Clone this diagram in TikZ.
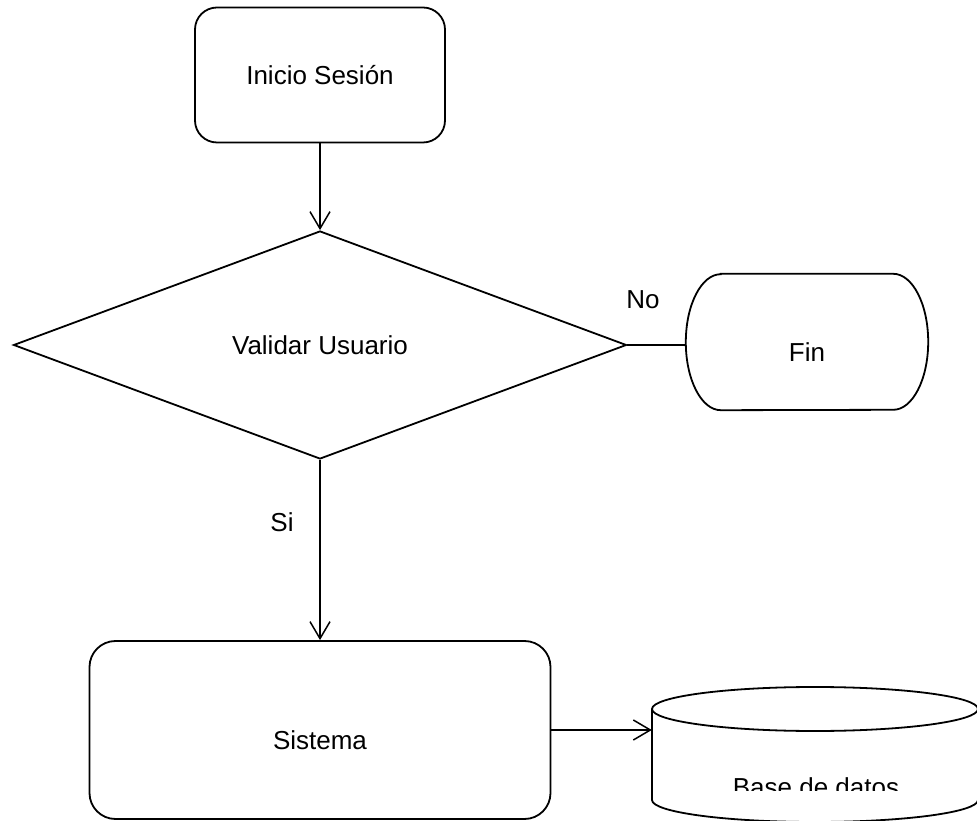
\documentclass[tikz,border=0pt]{standalone}
\usepackage{fontspec}
\setmainfont{Liberation Sans}
\usetikzlibrary{shapes.geometric,arrows.meta}
\tikzset{
  x=1pt,y=1pt,
  linea/.style={line width=1.8pt,black},
  flecha/.style={linea,-{Straight Barb[length=17pt,width=20pt,line width=1.5pt]}},
  proceso/.style={draw,linea,rectangle,inner sep=0pt},
  decision/.style={draw,linea,diamond,inner sep=0pt,minimum width=613pt,minimum height=228pt},
  texto/.style={font=\fontsize{26}{31}\selectfont}
}
\begin{document}
\begin{tikzpicture}[texto]
\clip (0,0) rectangle (977,820);
%cajas
\node[proceso,rounded corners=22pt,minimum width=250pt,minimum height=135pt] (inicio) at (320,745) {Inicio Sesi\'on};
\node[decision] (validar) at (320,475) {Validar Usuario};
\node[proceso,rounded corners=26pt,minimum width=461pt,minimum height=178pt] (sistema) at (320,90) {};
\node (sistematxt) at ([yshift=-10pt]sistema.center) {Sistema};
%terminal fin
\node[minimum width=242pt,minimum height=136pt,inner sep=0pt] (fin) at (807,478) {};
\draw[linea] ([xshift=35pt]fin.north west) -- ([xshift=-35pt]fin.north east)
  arc[start angle=90,end angle=-90,x radius=35pt,y radius=68pt]
  -- ([xshift=35pt]fin.south west)
  arc[start angle=270,end angle=90,x radius=35pt,y radius=68pt] -- cycle;
\node (fintxt) at ([yshift=-10pt]fin.center) {Fin};
%base de datos
\node[minimum width=326pt,minimum height=135pt,inner sep=0pt] (bd) at (815,65.5) {};
\draw[linea] (815,111) ellipse[x radius=163pt,y radius=22pt];
\draw[linea] (652,111) -- (652,20) arc[start angle=180,end angle=360,x radius=163pt,y radius=22pt] -- (978,111);
\begin{scope}
\clip (652,30) rectangle (978,111);
\node (bdtxt) at (816,33) {Base de datos};
\end{scope}
%conectores
\draw[flecha] (inicio.south) -- (validar.north);
\draw[linea] (validar.east) -- (validar.east -| fin.west);
\draw[flecha] (validar.south) -- (sistema.north);
\draw[flecha] (sistema.east) -- (sistema.east -| bd.west);
%etiquetas
\node (no) at (643,520) {No};
\node (si) at (282,298) {Si};
\end{tikzpicture}
\end{document}
